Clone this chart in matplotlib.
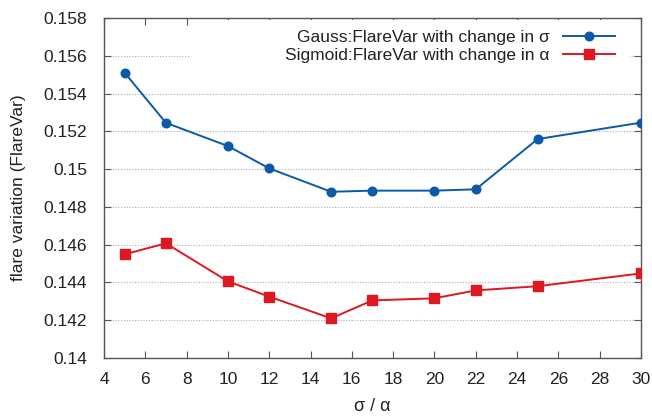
import matplotlib.pyplot as plt
from matplotlib.patches import Rectangle
from matplotlib.ticker import FuncFormatter, MultipleLocator

plt.rcParams['font.family'] = ['Liberation Sans', 'DejaVu Sans']

BLUE = '#0a5aa8'
RED = '#dd1820'
TEXT = '#222222'

# sigma / alpha settings and the resulting flare variation
x_vals = [5, 7, 10, 12, 15, 17, 20, 22, 25, 30]
gauss_var = [0.1551, 0.15245, 0.15122, 0.15004, 0.1488, 0.14886, 0.14886, 0.14893, 0.15159, 0.15246]
sigmoid_var = [0.14549, 0.14607, 0.14406, 0.14325, 0.1421, 0.14305, 0.14316, 0.14358, 0.1438, 0.14448]

gauss_label = 'Gauss:FlareVar with change in σ'
sigmoid_label = 'Sigmoid:FlareVar with change in α'

fig = plt.figure(figsize=(6.52, 4.18), dpi=100)
ax = fig.add_axes([0.1595, 0.1435, 0.8235, 0.8135])

ax.plot(x_vals, gauss_var, color=BLUE, lw=1.4, marker='o', ms=6.2,
        label=gauss_label, zorder=4)
ax.plot(x_vals, sigmoid_var, color=RED, lw=1.4, marker='s', ms=6.5,
        label=sigmoid_label, zorder=4)

ax.set_xlim(4, 30)
ax.set_ylim(0.14, 0.158)
ax.xaxis.set_major_locator(MultipleLocator(2))
ax.yaxis.set_major_locator(MultipleLocator(0.002))
ax.yaxis.set_major_formatter(FuncFormatter(lambda v, _: f'{v:g}'))

ax.grid(axis='y', color='#b0b0b0', linestyle=(0, (1, 1.5)), lw=0.8, zorder=1)
ax.set_axisbelow(True)

# white area behind the key hides the grid there
ax.add_patch(Rectangle((0.16, 0.845), 0.82, 0.15, transform=ax.transAxes,
                       facecolor='white', edgecolor='none', zorder=2))

for side in ax.spines.values():
    side.set_color('#555555')
    side.set_linewidth(1.0)

ax.tick_params(direction='in', length=5, width=0.8, color='#555555',
               top=True, right=True, labelsize=12.5, labelcolor=TEXT)
ax.tick_params(axis='x', pad=10)
ax.tick_params(axis='y', pad=12)

ax.set_xlabel('σ / α', fontsize=13, color=TEXT, labelpad=8)
ax.set_ylabel('flare variation (FlareVar)', fontsize=12.5, color=TEXT, labelpad=13)

leg = ax.legend(loc='upper right', markerfirst=False, frameon=False,
                fontsize=12.5, handlelength=3.0, handletextpad=0.8,
                labelspacing=0.15, borderaxespad=0.3,
                bbox_to_anchor=(0.975, 1.0))
for t in leg.get_texts():
    t.set_color(TEXT)
leg.set_zorder(5)

fig.savefig('out.png', dpi=100)
